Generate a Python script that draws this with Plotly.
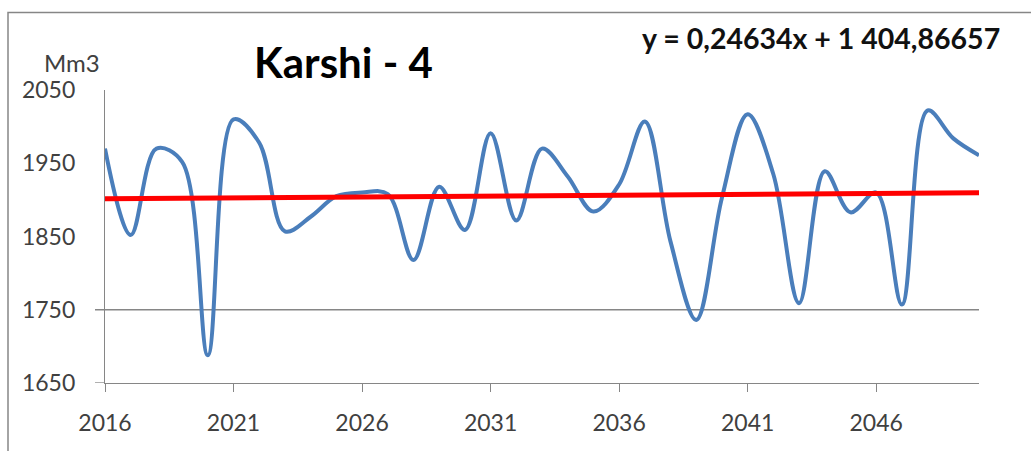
import plotly.graph_objects as go

years = list(range(2016, 2051))
volume_mm3 = [1970, 1852, 1970, 1952, 1688, 2010, 1978, 1857, 1877, 1905,
              1910, 1908, 1818, 1918, 1859, 1991, 1872, 1970, 1932, 1884,
              1921, 2007, 1843, 1736, 1903, 2017, 1935, 1759, 1939, 1883,
              1910, 1757, 2022, 1984, 1961]
trend_slope = 0.24634
trend_intercept = 1404.86657
title_text = "Karshi - 4"
equation_text = "y = 0,24634x + 1 404,86657"
y_unit = "Mm3"
x_tickvals = list(range(2016, 2047, 5))
y_tickvals = [1650, 1750, 1850, 1950, 2050]

trend_x = [years[0], years[-1]]
trend_y = [trend_slope * x + trend_intercept for x in trend_x]

L, R, T, B = 105, 52, 90, 68
W, H = 1031, 451
pw, ph = W - L - R, H - T - B

def px(x):
    return (x - L) / pw

def py(y):
    return (H - B - y) / ph

FONT = "Lato"
GRAY = "#868686"

fig = go.Figure()
fig.add_trace(go.Scatter(x=years, y=volume_mm3, mode="lines",
                         line=dict(color="#4A7EBB", width=4, shape="spline", smoothing=1.0),
                         showlegend=False, hoverinfo="x+y"))
fig.add_trace(go.Scatter(x=trend_x, y=trend_y, mode="lines",
                         line=dict(color="#FF0000", width=5),
                         showlegend=False, hoverinfo="x+y"))

fig.update_layout(
    width=W, height=H,
    margin=dict(l=L, r=R, t=T, b=B, pad=0),
    paper_bgcolor="white", plot_bgcolor="white",
    font=dict(family=FONT, color="#404040", size=23),
    xaxis=dict(range=[2016, 2050], tickvals=x_tickvals, ticks="outside", ticklen=8,
               tickcolor=GRAY, tickwidth=1, showline=True, linecolor=GRAY, linewidth=1.3,
               showgrid=False, zeroline=False, ticklabelstandoff=11, automargin=False,
               tickfont=dict(size=23, color="#404040")),
    yaxis=dict(range=[1650, 2050], tickvals=y_tickvals, ticks="", showline=True,
               linecolor=GRAY, linewidth=1.3, showgrid=False, zeroline=False,
               ticklabelstandoff=24, automargin=False,
               tickfont=dict(size=23, color="#404040")),
    shapes=[
        dict(type="rect", xref="paper", yref="paper", x0=px(8), x1=px(1045),
             y0=py(465), y1=py(12.5), line=dict(color=GRAY, width=1.5), layer="below"),
        dict(type="line", xref="paper", yref="y", x0=px(95), x1=1, y0=1750, y1=1750,
             line=dict(color=GRAY, width=1.3), layer="below"),
        dict(type="line", xref="paper", yref="y", x0=px(95), x1=0, y0=1650, y1=1650,
             line=dict(color=GRAY, width=1.3), layer="below"),
    ],
    annotations=[
        dict(text=title_text, xref="paper", yref="paper", x=px(343.5), y=py(62),
             xanchor="center", yanchor="middle", showarrow=False,
             font=dict(family=FONT, size=42, color="black", weight="bold")),
        dict(text=equation_text, xref="paper", yref="paper", x=px(1002), y=py(38),
             xanchor="right", yanchor="middle", showarrow=False,
             font=dict(family=FONT, size=28.5, color="#111111", weight="bold")),
        dict(text=y_unit, xref="paper", yref="paper", x=px(72), y=py(63),
             xanchor="center", yanchor="middle", showarrow=False,
             font=dict(family=FONT, size=24, color="#404040")),
    ],
)

fig.write_html("out.html", config={"displayModeBar": False},
               post_script="document.body.style.margin='0';document.body.style.overflow='hidden';")
